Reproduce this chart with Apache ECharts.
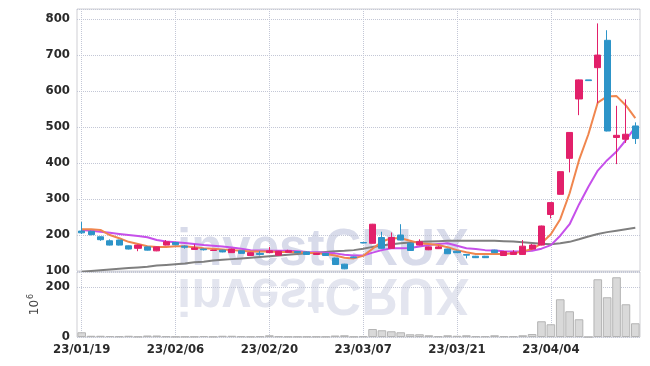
<!DOCTYPE html>
<html><head><meta charset="utf-8">
<script src="https://cdn.jsdelivr.net/npm/echarts@6/dist/echarts.min.js"></script>
<style>html,body{margin:0;padding:0;background:#fff}#c{width:650px;height:366px}</style>
</head><body><div id="c"></div>
<script>
const dates = ['23/01/19','23/01/20','23/01/25','23/01/26','23/01/27','23/01/30','23/01/31','23/02/01','23/02/02','23/02/03',
'23/02/06','23/02/07','23/02/08','23/02/09','23/02/10','23/02/13','23/02/14','23/02/15','23/02/16','23/02/17',
'23/02/20','23/02/21','23/02/22','23/02/23','23/02/24','23/02/27','23/02/28','23/03/02','23/03/03','23/03/06',
'23/03/07','23/03/08','23/03/09','23/03/10','23/03/13','23/03/14','23/03/15','23/03/16','23/03/17','23/03/20',
'23/03/21','23/03/22','23/03/23','23/03/24','23/03/27','23/03/28','23/03/29','23/03/30','23/03/31','23/04/03',
'23/04/04','23/04/05','23/04/06','23/04/07','23/04/10','23/04/11','23/04/12','23/04/13','23/04/14','23/04/17'];
const opens  = [211,210,195,184,186,170,163,167,156,172, 179,169,160,161,157,158,151,156,143,149, 151,144,152,154,153,146,149,136,119,139, 179,177,193,163,200,177,172,159,162,161, 155,146,141,141,158,143,146,146,161,172, 257,313,413,578,631,665,741,471,466,503];
const closes = [206,201,187,172,172,161,172,158,167,181, 173,166,164,159,158,153,161,149,151,146, 156,155,156,151,146,149,143,118,106,137, 178,230,163,193,186,157,181,167,167,148, 151,144,137,137,151,154,152,169,172,225, 290,376,485,631,629,700,489,477,480,468];
const lows   = [203,199,184,171,171,160,155,157,155,171, 172,162,159,157,156,152,150,148,142,143, 150,143,151,150,145,145,142,117,105,136, 177,176,162,162,185,156,171,158,161,147, 150,135,136,136,150,142,145,145,160,171, 246,312,374,533,629,566,488,397,456,453];
const highs  = [236,212,196,188,187,171,173,168,168,186, 180,171,174,162,159,159,162,157,152,155, 167,156,159,155,154,150,150,137,120,140, 180,231,209,207,230,178,188,168,170,162, 156,147,142,142,159,155,158,186,175,226, 291,377,486,632,631,788,769,559,577,513];
const ma5  = [216,216,214,200,191,181,175,169,167,167, 169,169,166,163,162,160,158,156,154,154, 154,153,153,152,151,149,147,143,137,135, 142,162,182,191,191,184,177,175,172,166, 158,152,147,147,147,147,149,154,161,177, 202,244,316,408,480,568,585,586,560,525];
const ma20 = [214,212,209,206,203,200,197,194,186,182, 180,178,175,172,170,168,165,162,158,157, 156,156,156,155,153,152,151,149,145,143, 143,151,158,163,163,164,168,172,175,177, 170,163,161,158,157,155,154,154,156,162, 172,198,230,285,334,379,408,432,464,500];
const ma60 = [98,100,102,104,106,108,110,112,115,117, 119,121,124,126,129,131,133,135,137,139, 141,143,145,147,149,151,153,155,156,158, 162,167,171,174,177,179,181,182,183,184, 184,184,184,184,184,183,182,180,178,176, 174,177,181,188,196,203,208,212,216,220];
const volumes = [19,5,5,4,3,5,2,6,6,3, 2,2,2,4,2,5,5,3,2,3, 7,3,2,2,2,2,2,6,7,2, 3,32,27,23,19,11,11,7,3,7, 5,7,3,3,7,3,3,7,12,63, 51,151,103,71,0,231,159,239,131,55];

const FONT = "'DejaVu Sans Condensed','Liberation Sans Narrow',sans-serif";
const candles = dates.map((d, i) => [opens[i], closes[i], lows[i], highs[i]]);
const gridLine = { show: true, lineStyle: { type: 'dotted', color: '#c3c7d6', width: 1 } };
const yLabel = { fontFamily: FONT, fontSize: 13, fontWeight: 'bold', color: '#2a2a2a' };
const xLabel = { fontFamily: FONT, fontSize: 13, fontWeight: 'bold', color: '#2a2a2a' };

const chart = echarts.init(document.getElementById('c'), null, { renderer: 'canvas' });
chart.setOption({
  animation: false,
  backgroundColor: '#fff',
  graphic: [
    { type: 'text', z: -1, silent: true,
      style: { text: 'investCRUX', x: 177, y: 251, font: 'bold 51px "Liberation Sans"', fill: '#d8dbea', verticalAlign: 'middle' } },
    { type: 'text', z: -1, silent: true, scaleY: -1, originX: 0, originY: 272,
      style: { text: 'investCRUX', x: 177, y: 251, font: 'bold 51px "Liberation Sans"', fill: '#e3e5ef', verticalAlign: 'middle' } }
  ],
  grid: [
    { left: 77, right: 10, top: 9, height: 262, show: true, borderColor: '#cfcfd4', borderWidth: 1 },
    { left: 77, right: 10, top: 272, height: 65, show: true, borderColor: '#cfcfd4', borderWidth: 1 }
  ],
  xAxis: [
    { type: 'category', gridIndex: 0, data: dates, boundaryGap: true,
      axisLabel: { show: false }, axisTick: { show: false }, axisLine: { show: false },
      splitLine: Object.assign({ interval: 9, alignWithLabel: true }, gridLine) },
    { type: 'category', gridIndex: 1, data: dates, boundaryGap: true,
      axisLabel: Object.assign({ interval: 9, margin: 6 }, xLabel),
      axisTick: { show: false, alignWithLabel: true }, axisLine: { show: false },
      splitLine: Object.assign({ interval: 9, alignWithLabel: true }, gridLine) }
  ],
  yAxis: [
    { type: 'value', gridIndex: 0, min: 100, max: 828, interval: 100, scale: true,
      axisLabel: Object.assign({ showMaxLabel: false, margin: 7 }, yLabel),
      axisLine: { show: false }, axisTick: { show: false }, splitLine: gridLine },
    { type: 'value', gridIndex: 1, min: 0, max: 260, interval: 200,
      name: '10{s|6}', nameLocation: 'middle', nameRotate: 90, nameGap: 34, nameMoveOverlap: false,
      nameTextStyle: { fontFamily: 'DejaVu Sans', fontSize: 12, color: '#444', lineHeight: 16,
        rich: { s: { fontFamily: 'DejaVu Sans', fontSize: 8, color: '#444', verticalAlign: 'top', lineHeight: 16, padding: [0, 0, 6, 1] } } },
      axisLabel: Object.assign({ showMaxLabel: false, margin: 7 }, yLabel),
      axisLine: { show: false }, axisTick: { show: false }, splitLine: gridLine }
  ],
  series: [
    { name: 'MA60', type: 'line', xAxisIndex: 0, yAxisIndex: 0, data: ma60, showSymbol: false, symbol: 'none',
      lineStyle: { color: '#7f7f7f', width: 2 }, z: 2 },
    { name: 'MA20', type: 'line', xAxisIndex: 0, yAxisIndex: 0, data: ma20, showSymbol: false, symbol: 'none',
      lineStyle: { color: '#c650ea', width: 2 }, z: 2 },
    { name: 'MA5', type: 'line', xAxisIndex: 0, yAxisIndex: 0, data: ma5, showSymbol: false, symbol: 'none',
      lineStyle: { color: '#f0864e', width: 2 }, z: 2 },
    { name: 'Price', type: 'candlestick', xAxisIndex: 0, yAxisIndex: 0, data: candles, barWidth: '70%', z: 3,
      itemStyle: { color: '#e2206a', color0: '#2d94c8', borderColor: '#e2206a', borderColor0: '#2d94c8', borderWidth: 1 } },
    { name: 'Volume', type: 'bar', xAxisIndex: 1, yAxisIndex: 1, data: volumes, barCategoryGap: '8%',
      itemStyle: { color: '#d9d9d9', borderColor: '#b4b4b4', borderWidth: 1 } }
  ]
});
</script>
</body></html>
